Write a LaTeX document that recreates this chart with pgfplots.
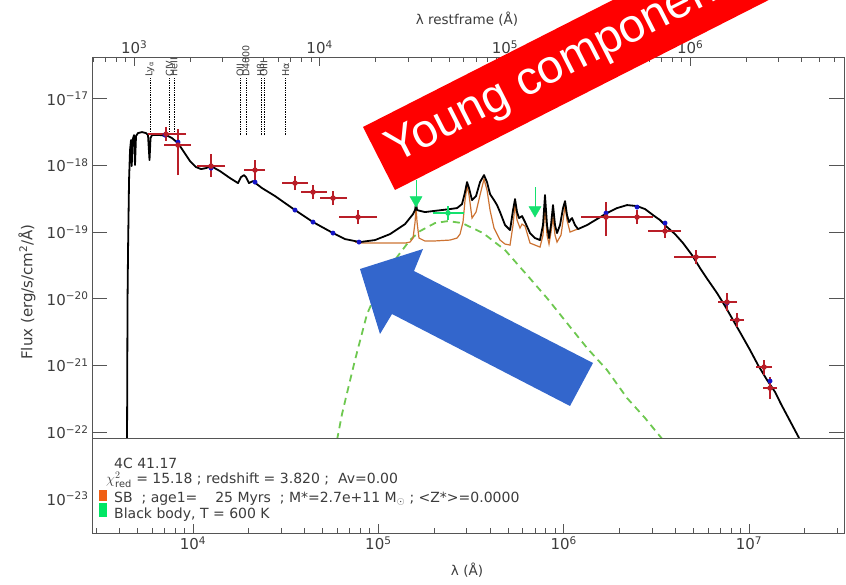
\documentclass[border=0pt]{standalone}
\usepackage{pgfplots}
\pgfplotsset{compat=1.18}
\usepackage{fontspec}
\setmainfont{DejaVu Sans}
\newfontfamily\arialfont{Liberation Sans}
\definecolor{framegray}{RGB}{85,85,85}
\definecolor{labgray}{RGB}{60,60,60}
\definecolor{datred}{RGB}{185,30,40}
\definecolor{sborange}{RGB}{205,115,50}
\definecolor{bbgreen}{RGB}{110,200,80}
\definecolor{limgreen}{RGB}{20,225,110}
\definecolor{dotblue}{RGB}{20,20,200}
\definecolor{arrowblue}{RGB}{51,102,204}
\definecolor{bannerred}{RGB}{255,0,0}
\definecolor{sbsq}{RGB}{240,95,20}
\definecolor{bbsq}{RGB}{0,230,100}
\begin{document}
\begin{tikzpicture}[x=1pt,y=1pt]
\useasboundingbox (0,0) rectangle (846,584);

\begin{axis}[
  at={(92pt,51pt)}, anchor=south west, scale only axis,
  width=752pt, height=476pt,
  xmode=log, ymode=log,
  xmin=2851, xmax=3.255e7, ymin=3.055e-24, ymax=4.23e-17,
  xtick=\empty, xminorticks=false, yminorticks=false,
  ytick={1e-23,1e-22,1e-21,1e-20,1e-19,1e-18,1e-17},
  yticklabels={10\textsuperscript{−23},10\textsuperscript{−22},10\textsuperscript{−21},10\textsuperscript{−20},10\textsuperscript{−19},10\textsuperscript{−18},10\textsuperscript{−17}},
  ytick pos=both, yticklabel pos=left, tick align=inside, major tick length=15pt,
  every tick/.append style={framegray, line width=0.8pt},
  axis line style={framegray, line width=0.8pt},
  yticklabel style={font=\fontsize{15}{15}\selectfont, text=labgray},
  clip=false,
]
% emission line markers
\addplot[black, densely dotted, line width=0.7pt] coordinates {(5861,2.851e-18) (5861,2.04e-17)};
\addplot[black, densely dotted, line width=0.7pt] coordinates {(7466,2.851e-18) (7466,2.04e-17)};
\addplot[black, densely dotted, line width=0.7pt] coordinates {(7905,2.851e-18) (7905,2.04e-17)};
\addplot[black, densely dotted, line width=0.7pt] coordinates {(17964,2.851e-18) (17964,2.04e-17)};
\addplot[black, densely dotted, line width=0.7pt] coordinates {(19280,2.851e-18) (19280,2.04e-17)};
\addplot[black, densely dotted, line width=0.7pt] coordinates {(23430,2.851e-18) (23430,2.04e-17)};
\addplot[black, densely dotted, line width=0.7pt] coordinates {(24134,2.851e-18) (24134,2.04e-17)};
\addplot[black, densely dotted, line width=0.7pt] coordinates {(31633,2.851e-18) (31633,2.04e-17)};
\begin{scope}[every node/.style={rotate=90, anchor=west, inner sep=0.5pt, font=\fontsize{9.5}{9.5}\selectfont, text=labgray}]
\node at (axis cs:5861,2.1e-17) {Ly\textsubscript{α}};
\node at (axis cs:7466,2.1e-17) {CIV};
\node at (axis cs:7905,2.1e-17) {HeII};
\node at (axis cs:17964,2.1e-17) {OII};
\node at (axis cs:19280,2.1e-17) {D4000};
\node at (axis cs:23430,2.1e-17) {Hβ};
\node at (axis cs:24134,2.1e-17) {OIII};
\node at (axis cs:31633,2.1e-17) {Hα};
\end{scope}

% black body (dashed green)
\addplot[bbgreen, line width=1.8pt, dash pattern=on 7pt off 5pt] coordinates {
(5.984e4,7.59e-23) (6.368e4,1.862e-22) (6.776e4,3.846e-22) (7.483e4,1.202e-21)
(8.687e4,5.89e-21) (1.060e5,2.042e-20) (1.261e5,4.217e-20) (1.482e5,7.59e-20)
(1.678e5,1.035e-19) (2.022e5,1.365e-19) (2.376e5,1.462e-19) (2.828e5,1.365e-19)
(3.671e5,9.66e-20) (4.826e5,5.37e-20) (6.343e5,2.265e-20) (8.128e5,1.023e-20)
(1.042e6,4.315e-21) (1.337e6,1.820e-21) (1.714e6,8.51e-22) (2.197e6,3.236e-22)
(2.748e6,1.622e-22) (3.436e6,7.59e-23)};

% starburst (orange)
\addplot[sborange, line width=1.2pt] coordinates {
(7.483e4,7.08e-20) (7.962e4,6.84e-20) (1.060e5,6.84e-20) (1.393e5,6.84e-20)
(1.482e5,7.08e-20) (1.539e5,8.13e-20) (1.578e5,1.413e-19) (1.597e5,2.371e-19)
(1.617e5,1.413e-19) (1.657e5,8.13e-20) (1.786e5,7.33e-20) (1.972e5,7.33e-20)
(2.436e5,7.59e-20) (2.658e5,8.13e-20) (2.759e5,9.33e-20) (2.863e5,1.413e-19)
(2.936e5,3.020e-19) (3.009e5,4.90e-19) (3.085e5,3.589e-19) (3.202e5,1.622e-19)
(3.365e5,1.995e-19) (3.537e5,3.589e-19) (3.717e5,6.24e-19) (3.858e5,4.27e-19)
(4.005e5,2.138e-19) (4.209e5,1.148e-19) (4.535e5,7.59e-20) (4.826e5,6.61e-20)
(5.135e5,6.38e-20) (5.330e5,1.274e-19) (5.464e5,2.630e-19) (5.601e5,1.514e-19)
(5.813e5,1.148e-19) (5.960e5,1.318e-19) (6.186e5,1.230e-19) (6.582e5,6.84e-20)
(7.451e5,5.96e-20) (7.734e5,9.02e-20) (7.929e5,2.291e-19) (8.128e5,9.02e-20)
(8.333e5,6.61e-20) (8.542e5,1.0e-19) (8.758e5,1.679e-19) (8.979e5,9.02e-20)
(9.205e5,7.08e-20) (9.674e5,9.02e-20) (1.017e6,2.455e-19) (1.042e6,1.514e-19)
(1.082e6,1.0e-19) (1.151e6,1.072e-19) (1.195e6,1.109e-19)};

% total model (black)
\addplot[black, line width=1.8pt, line join=round] coordinates {
(4405,7.59e-23) (4433,9.55e-21) (4461,5.37e-20) (4517,6.03e-19) (4573,1.698e-18)
(4630,2.399e-18) (4670,9.77e-19) (4717,2.399e-18) (4805,2.851e-18) (4864,1.012e-18)
(4925,2.754e-18) (5049,3.055e-18) (5306,3.162e-18) (5577,3.055e-18) (5717,2.851e-18)
(5825,1.202e-18) (5898,2.570e-18) (6009,2.851e-18) (6636,2.851e-18) (7330,2.754e-18)
(7703,2.570e-18) (8300,2.163e-18) (8944,1.585e-18) (9634,1.161e-18) (10380,9.44e-19)
(11050,8.81e-19) (11750,9.12e-19) (12510,9.77e-19) (13980,8.22e-19) (15830,6.46e-19)
(17490,5.43e-19) (18160,6.68e-19) (18840,7.16e-19) (19320,6.68e-19) (20050,5.43e-19)
(21070,5.82e-19) (22430,5.07e-19) (23570,4.57e-19) (27700,3.47e-19) (35510,2.138e-19)
(44420,1.413e-19) (56940,9.66e-20) (66090,7.85e-20) (79620,7.08e-20) (95940,7.59e-20)
(1.156e5,9.33e-20) (1.393e5,1.318e-19) (1.539e5,1.862e-19) (1.578e5,2.138e-19)
(1.597e5,2.723e-19) (1.617e5,2.138e-19) (1.786e5,1.995e-19) (1.972e5,2.065e-19)
(2.436e5,2.213e-19) (2.658e5,2.291e-19) (2.828e5,2.630e-19) (2.936e5,3.981e-19)
(3.009e5,5.62e-19) (3.085e5,4.57e-19) (3.202e5,3.020e-19) (3.365e5,3.47e-19)
(3.537e5,5.62e-19) (3.717e5,7.16e-19) (3.858e5,5.62e-19) (4.005e5,3.715e-19)
(4.209e5,3.020e-19) (4.369e5,2.541e-19) (4.535e5,1.995e-19) (4.826e5,1.274e-19)
(5.135e5,1.072e-19) (5.330e5,2.138e-19) (5.464e5,3.126e-19) (5.601e5,1.995e-19)
(5.742e5,1.622e-19) (5.960e5,1.738e-19) (6.186e5,1.413e-19) (6.582e5,9.66e-20)
(7.002e5,8.13e-20) (7.451e5,7.59e-20) (7.734e5,1.274e-19) (7.929e5,3.589e-19)
(8.128e5,1.274e-19) (8.333e5,8.13e-20) (8.542e5,1.274e-19) (8.758e5,2.541e-19)
(8.979e5,1.274e-19) (9.205e5,9.66e-20) (9.554e5,1.274e-19) (9.917e5,2.291e-19)
(1.017e6,2.917e-19) (1.042e6,1.799e-19) (1.069e6,1.413e-19) (1.095e6,1.567e-19)
(1.109e6,1.622e-19) (1.151e6,1.274e-19) (1.195e6,1.109e-19) (1.337e6,1.274e-19)
(1.513e6,1.567e-19) (1.714e6,1.928e-19) (1.941e6,2.291e-19) (2.197e6,2.541e-19)
(2.488e6,2.455e-19) (2.748e6,2.213e-19) (3.034e6,1.799e-19) (3.311e6,1.514e-19)
(3.611e6,1.189e-19) (3.988e6,9.33e-20) (4.405e6,6.84e-20) (4.926e6,4.52e-20)
(5.441e6,2.884e-20) (6.010e6,1.905e-20) (6.721e6,1.216e-20) (7.424e6,7.76e-21)
(8.199e6,4.79e-21) (9.056e6,2.951e-21) (1.013e7,1.698e-21) (1.118e7,1.012e-21)
(1.251e7,6.03e-22) (1.382e7,3.98e-22) (1.488e7,2.630e-22) (1.665e7,1.462e-22)
(1.862e7,8.13e-23)};

% model photometry (blue dots)
\addplot[only marks, mark=*, mark size=2.2pt, dotblue] coordinates {
(7062,2.851e-18) (8300,2.239e-18) (12510,9.12e-19) (21600,5.62e-19) (35510,2.138e-19)
(44420,1.413e-19) (56940,9.66e-20) (78660,7.08e-20) (1.692e6,1.928e-19) (2.488e6,2.371e-19)
(3.523e6,1.365e-19) (7.609e6,8.61e-21) (8.617e6,4.79e-21) (1.298e7,5.82e-22)};

% observed photometry (red)
\addplot[datred, only marks, mark=*, mark size=2.1pt, line width=1.2pt,
  error bars/.cd, x dir=both, x explicit, y dir=both, y explicit,
  error bar style={line width=1.2pt}, error mark options={mark size=4pt, line width=1.2pt}]
coordinates {
(7151,2.951e-18) += (1572,0.322e-18) -= (1142,0.290e-18)
(8300,2.018e-18) += (982,1.037e-18) -= (970,1.196e-18)
(12510,9.77e-19) += (1650,3.11e-19) -= (1460,2.10e-19)
(21600,8.51e-19) += (1680,1.96e-19) -= (1790,1.59e-19)
(35510,5.43e-19) += (4210,0.60e-19) -= (3750,0.53e-19)
(44420,3.981e-19) += (5870,0.435e-19) -= (4200,0.392e-19)
(56940,3.236e-19) += (7530,0.353e-19) -= (6030,0.319e-19)
(77670,1.679e-19) += (15910,0.183e-19) -= (13200,0.165e-19)
(1.692e6,1.679e-19) += (3.72e5,0.776e-19) -= (3.88e5,0.679e-19)
(2.488e6,1.679e-19) += (3.99e5,0.183e-19) -= (3.98e5,0.165e-19)
(3.523e6,1.035e-19) += (5.66e5,0.113e-19) -= (5.26e5,0.102e-19)
(5.178e6,4.217e-20) += (1.138e6,0.46e-20) -= (1.038e6,0.415e-20)
(7.609e6,8.91e-21) += (5.90e5,1.68e-21) -= (4.57e5,1.41e-21)
(8.617e6,4.79e-21) += (3.26e5,0.52e-21) -= (3.16e5,0.475e-21)
(1.205e7,9.44e-22) += (6.1e5,1.03e-22) -= (5.8e5,1.22e-22)
(1.298e7,4.57e-22) += (5.0e5,1.25e-22) -= (4.7e5,0.98e-22)
};

% green photometry point
\addplot[limgreen, only marks, mark=*, mark size=2.1pt, line width=1.2pt,
  error bars/.cd, x dir=both, x explicit, y dir=both, y explicit,
  error bar style={line width=1.2pt}, error mark options={mark size=4pt, line width=1.2pt}]
coordinates {(2.376e5,1.928e-19) += (3.83e4,0.21e-19) -= (3.03e4,0.19e-19)};

% upper limits
\addplot[limgreen, line width=1pt] coordinates {(1.597e5,3.02e-19) (1.597e5,6.03e-19)};
\addplot[limgreen, line width=1pt] coordinates {(7.002e5,2.138e-19) (7.002e5,4.73e-19)};
\addplot[limgreen, only marks, mark=triangle*, mark size=7pt, mark options={rotate=180}]
  coordinates {(1.597e5,3.02e-19) (7.002e5,2.138e-19)};
\end{axis}

% legend panel
\fill[white] (92.4,51) rectangle (843.6,146);
\draw[framegray, line width=0.8pt] (92,146) -- (844,146);

\begin{axis}[
  at={(92pt,51pt)}, anchor=south west, scale only axis,
  width=752pt, height=476pt,
  xmode=log, xmin=2851, xmax=3.255e7, ymin=0, ymax=1,
  ytick=\empty,
  xtick={1e4,1e5,1e6,1e7},
  xticklabels={10\textsuperscript{4},10\textsuperscript{5},10\textsuperscript{6},10\textsuperscript{7}},
  minor xtick={3000,4000,5000,6000,7000,8000,9000,2e4,3e4,4e4,5e4,6e4,7e4,8e4,9e4,2e5,3e5,4e5,5e5,6e5,7e5,8e5,9e5,2e6,3e6,4e6,5e6,6e6,7e6,8e6,9e6,2e7,3e7},
  xtick pos=left, tick align=inside, major tick length=9pt, minor tick length=5pt,
  every tick/.append style={framegray, line width=0.8pt},
  axis line style={framegray, line width=0.8pt},
  xticklabel style={font=\fontsize{15}{15}\selectfont, text=labgray},
]
\end{axis}

\begin{axis}[
  at={(92pt,51pt)}, anchor=south west, scale only axis,
  width=752pt, height=476pt,
  xmode=log, xmin=591.5, xmax=6.754e6, ymin=0, ymax=1,
  axis x line*=top, hide y axis,
  xtick={1e3,1e4,1e5,1e6},
  xticklabels={10\textsuperscript{3},10\textsuperscript{4},10\textsuperscript{5},10\textsuperscript{6}},
  minor xtick={600,700,800,900,2000,3000,4000,5000,6000,7000,8000,9000,2e4,3e4,4e4,5e4,6e4,7e4,8e4,9e4,2e5,3e5,4e5,5e5,6e5,7e5,8e5,9e5,2e6,3e6,4e6,5e6,6e6},
  xtick align=inside, major tick length=9pt, minor tick length=5pt,
  every tick/.append style={framegray, line width=0.8pt},
  axis line style={framegray, line width=0.8pt},
  xticklabel style={font=\fontsize{15}{15}\selectfont, text=labgray},
]
\end{axis}

% axis titles
\node[font=\fontsize{13.5}{13.5}\selectfont, text=labgray] at (467,565) {λ restframe (Å)};
\node[font=\fontsize{13.5}{13.5}\selectfont, text=labgray] at (467,14) {λ (Å)};
\node[rotate=90, font=\fontsize{15}{15}\selectfont, text=labgray] at (27,292) {Flux (erg/s/cm\textsuperscript{2}/Å)};

% legend text
\begin{scope}[every node/.style={anchor=base west, inner sep=0, font=\fontsize{14}{14}\selectfont, text=labgray}]
\node at (114,115) {4C 41.17};
\node at (106,100) {$\chi^2_{\mathrm{red}}$ = 15.18 ; redshift = 3.820 ; \ Av=0.00};
\node at (114,82) {SB \ ; age1= \ \ \ 25 Myrs \ ; M*=2.7e+11 M$_\odot$ ; <Z*>=0.0000};
\node at (114,66) {Black body, T = 600 K};
\end{scope}
\fill[sbsq] (99,83) rectangle (107,94);
\fill[bbsq] (99,67) rectangle (107,81);

% annotations
\begin{scope}
\clip (0,0) rectangle (846,584);
\fill[bannerred] (395,394) -- (363,457) -- (898,729) -- (930,666) -- cycle;
\node[rotate=27, anchor=base west, inner sep=0, text=white, font=\arialfont\fontsize{47}{47}\selectfont] at (395,420) {Young componenet};
\end{scope}
\fill[arrowblue] (360,315) -- (423,335) -- (414,313) -- (593,221) -- (570,178) -- (392,270) -- (380,250) -- cycle;
\end{tikzpicture}
\end{document}
